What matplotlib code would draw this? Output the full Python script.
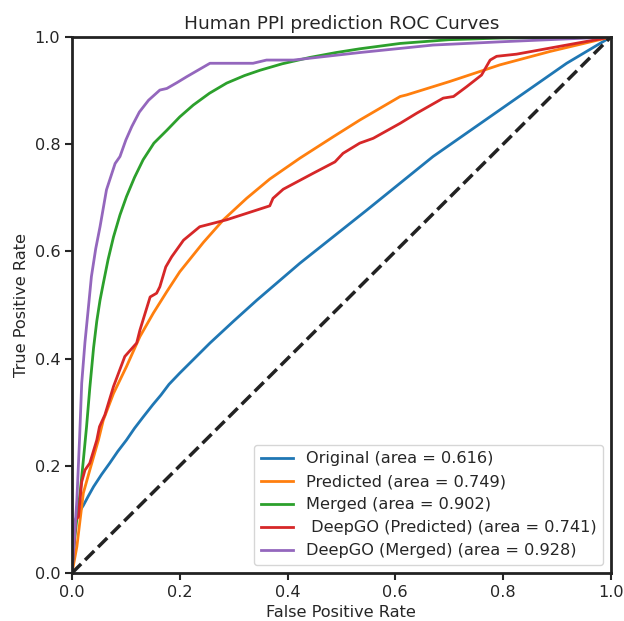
import numpy as np
import matplotlib
matplotlib.use('Agg')
import matplotlib.pyplot as plt

# %% ROC points (false positive rate, true positive rate)
orig_fpr = [0.0, 0.003, 0.006, 0.012, 0.021, 0.030, 0.040, 0.055, 0.070, 0.085, 0.101,
            0.116, 0.132, 0.150, 0.165, 0.180, 0.200, 0.230, 0.256, 0.300, 0.343,
            0.423, 0.547, 0.670, 0.794, 0.918, 1.0]
orig_tpr = [0.0, 0.070, 0.099, 0.112, 0.126, 0.143, 0.161, 0.184, 0.205, 0.227, 0.248,
            0.270, 0.291, 0.314, 0.332, 0.352, 0.373, 0.403, 0.429, 0.470, 0.509,
            0.578, 0.677, 0.777, 0.864, 0.951, 1.0]

pred_fpr = [0.0, 0.009, 0.021, 0.033, 0.049, 0.058, 0.077, 0.101, 0.126, 0.151, 0.176,
            0.200, 0.244, 0.281, 0.324, 0.367, 0.423, 0.485, 0.534, 0.609, 0.621,
            0.701, 0.794, 0.887, 1.0]
pred_tpr = [0.0, 0.049, 0.149, 0.192, 0.248, 0.285, 0.335, 0.385, 0.441, 0.485, 0.525,
            0.562, 0.617, 0.659, 0.699, 0.735, 0.774, 0.814, 0.845, 0.889, 0.892,
            0.917, 0.948, 0.973, 1.0]

merged_fpr = [0.0, 0.003, 0.006, 0.010, 0.015, 0.021, 0.027, 0.033, 0.040, 0.046, 0.052,
              0.058, 0.067, 0.077, 0.089, 0.101, 0.116, 0.132, 0.152, 0.176, 0.200,
              0.225, 0.255, 0.287, 0.320, 0.349, 0.390, 0.442, 0.490, 0.534, 0.609,
              0.700, 0.794, 1.0]
merged_tpr = [0.0, 0.045, 0.074, 0.110, 0.149, 0.210, 0.273, 0.345, 0.420, 0.470, 0.509,
              0.540, 0.585, 0.627, 0.668, 0.702, 0.738, 0.771, 0.802, 0.826, 0.851,
              0.873, 0.895, 0.914, 0.928, 0.938, 0.950, 0.962, 0.971, 0.978, 0.988,
              0.995, 0.998, 1.0]

dgo_pred_fpr = [0.0, 0.007, 0.012, 0.018, 0.024, 0.033, 0.046, 0.051, 0.061, 0.077, 0.098,
                0.120, 0.126, 0.145, 0.157, 0.163, 0.174, 0.185, 0.207, 0.237, 0.287,
                0.367, 0.373, 0.392, 0.448, 0.488, 0.503, 0.534, 0.559, 0.609, 0.640,
                0.689, 0.708, 0.732, 0.760, 0.776, 0.788, 0.825, 0.918, 1.0]
dgo_pred_tpr = [0.0, 0.099, 0.105, 0.170, 0.192, 0.205, 0.248, 0.273, 0.295, 0.348, 0.404,
                0.429, 0.453, 0.515, 0.522, 0.534, 0.571, 0.590, 0.621, 0.646, 0.659,
                0.685, 0.699, 0.716, 0.746, 0.767, 0.783, 0.802, 0.811, 0.839, 0.858,
                0.886, 0.889, 0.907, 0.929, 0.957, 0.964, 0.968, 0.985, 1.0]

dgo_merged_fpr = [0.0, 0.005, 0.009, 0.014, 0.018, 0.024, 0.030, 0.036, 0.044, 0.052, 0.064,
                  0.080, 0.089, 0.100, 0.111, 0.125, 0.142, 0.163, 0.176, 0.195, 0.213,
                  0.256, 0.336, 0.361, 0.411, 0.534, 0.670, 0.794, 1.0]
dgo_merged_tpr = [0.0, 0.075, 0.136, 0.250, 0.354, 0.430, 0.491, 0.553, 0.605, 0.646, 0.715,
                  0.764, 0.777, 0.808, 0.833, 0.860, 0.882, 0.901, 0.904, 0.915, 0.926,
                  0.951, 0.951, 0.957, 0.957, 0.971, 0.985, 0.991, 1.0]

labels = ['Original (area = 0.616)', 'Predicted (area = 0.749)', 'Merged (area = 0.902)',
          ' DeepGO (Predicted) (area = 0.741)', 'DeepGO (Merged) (area = 0.928)']

# %% Plot
fig = plt.figure(figsize=(6.24, 6.21), dpi=100)
ax = fig.add_axes([0.1154, 0.0773, 0.8635, 0.8631])

curves = [(orig_fpr, orig_tpr), (pred_fpr, pred_tpr), (merged_fpr, merged_tpr),
          (dgo_pred_fpr, dgo_pred_tpr), (dgo_merged_fpr, dgo_merged_tpr)]
for (fx, ty), lab in zip(curves, labels):
    ax.plot(fx, ty, lw=2, label=lab)
ax.plot([0, 1], [0, 1], color='#222222', lw=2.5, linestyle='--')

ax.set_xlim(0.0, 1.0)
ax.set_ylim(0.0, 1.0)
ax.set_xlabel('False Positive Rate', fontsize=11.6, color='#262626')
ax.set_ylabel('True Positive Rate', fontsize=11.6, color='#262626')
ax.set_title('Human PPI prediction ROC Curves', fontsize=13.3, color='#262626')
ax.tick_params(labelsize=11.6, width=1.5, length=5, colors='#262626')
for s in ax.spines.values():
    s.set_linewidth(2)
    s.set_color('#222222')
ax.legend(loc='lower right', fontsize=11.6, labelcolor='#262626')

plt.savefig('out.png', dpi=100)
